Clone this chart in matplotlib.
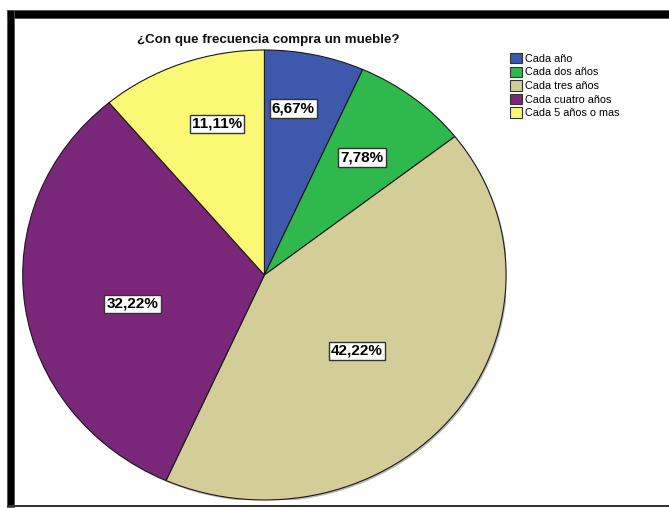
import matplotlib
matplotlib.use("Agg")
import matplotlib.pyplot as plt
from matplotlib.patches import Rectangle, Patch, Ellipse
import numpy as np

plt.rcParams['font.family'] = ['Liberation Sans', 'DejaVu Sans']

# Survey answers and their shares (%)
categories = ["Cada año", "Cada dos años", "Cada tres años",
              "Cada cuatro años", "Cada 5 años o mas"]
percentages = [6.67, 7.78, 42.22, 32.22, 11.11]
title = "¿Con que frecuencia compra un mueble?"

colors = ["#3E58AC", "#2FB84B", "#D3CE97", "#7B2779", "#FBF875"]

# label placement per slice: radial distance and angular nudge (degrees, ccw)
label_radius = [0.75, 0.66, 0.51, 0.56, 0.70]
label_nudge = [2.8, 0.2, -3.4, 5.3, -3.7]

W, H = 669, 508
fig = plt.figure(figsize=(W / 100, H / 100), dpi=100)
fig.patch.set_facecolor("white")

# frame around the chart
fig.add_artist(Rectangle((7 / W, 1 - 18 / H), (W - 7) / W, 8 / H,
                         transform=fig.transFigure, facecolor="black",
                         edgecolor="#555555", lw=0.6))
fig.add_artist(Rectangle((7 / W, 1 - 507 / H), 7 / W, (507 - 10) / H,
                         transform=fig.transFigure, facecolor="black",
                         edgecolor="#555555", lw=0.6))
fig.add_artist(Rectangle((7 / W, 1 - 507 / H), (W - 7) / W, 1.6 / H,
                         transform=fig.transFigure, facecolor="#333333",
                         edgecolor="none"))

# pie area (stretched horizontally)
ax = fig.add_axes([22.7 / W, 8 / H, 483.4 / W, 450 / H])

# soft drop shadow along the rim
ax.add_patch(Ellipse((0.006, -0.008), 2.0, 2.0, facecolor="#888888",
                     edgecolor="none", alpha=0.6, zorder=0))

wedges, _ = ax.pie(percentages, colors=colors, startangle=90,
                   counterclock=False, radius=1.0,
                   wedgeprops=dict(edgecolor="#1a1a1a", linewidth=0.8))
for w in wedges:
    w.set_zorder(1)
ax.set_aspect("auto")
ax.set_xlim(-1, 1)
ax.set_ylim(-1, 1)
ax.axis("off")

for w, pct, r, nd in zip(wedges, percentages, label_radius, label_nudge):
    mid = np.deg2rad((w.theta1 + w.theta2) / 2 + nd)
    ax.text(r * np.cos(mid), r * np.sin(mid),
            f"{pct:.2f}%".replace(".", ","),
            ha="center", va="center", fontsize=11, fontweight="bold",
            zorder=5,
            bbox=dict(boxstyle="square,pad=0.15", facecolor="white",
                      edgecolor="#333333", linewidth=1.0))

fig.text(268 / W, 1 - 40 / H, title, ha="center", va="center",
         fontsize=9.6, fontweight="bold", color="#111111")

handles = [Patch(facecolor=c, edgecolor="#333333", linewidth=0.8)
           for c in colors]
fig.legend(handles, categories, loc="upper left",
           bbox_to_anchor=(510 / W, 1 - 53 / H), frameon=False,
           fontsize=7.8, handlelength=1.1, handleheight=1.1,
           handletextpad=0.3, labelspacing=0.25, borderpad=0,
           borderaxespad=0)

fig.savefig("out.png", dpi=100, facecolor="white")
